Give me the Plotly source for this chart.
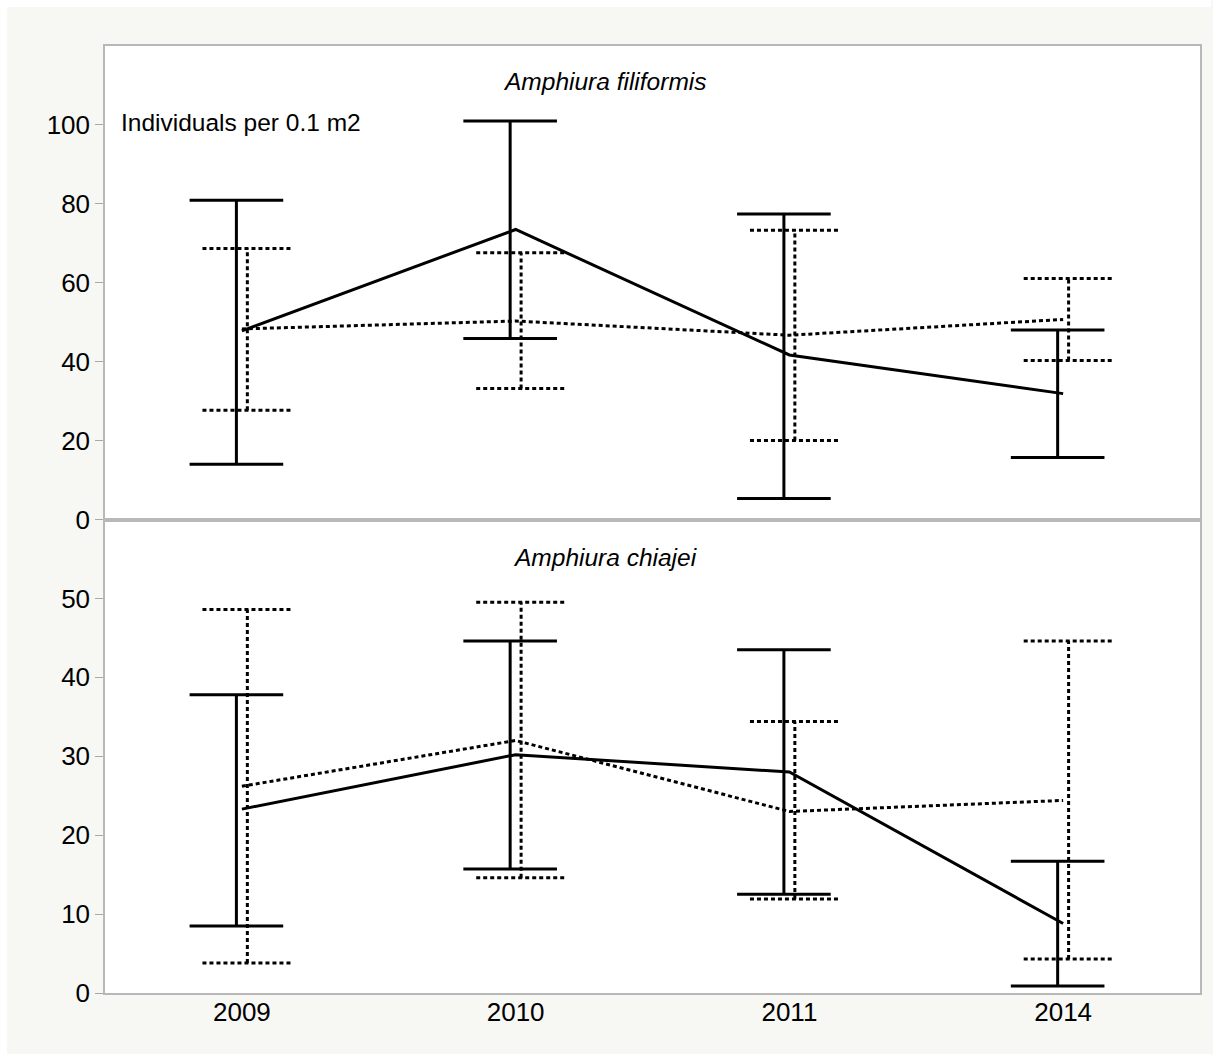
import plotly.graph_objects as go
from plotly.subplots import make_subplots

# ---- data -------------------------------------------------------------
years = ["2009", "2010", "2011", "2014"]

# Amphiura filiformis, individuals per 0.1 m2 (solid series)
fil_solid_mean = [47.8, 73.5, 41.7, 31.9]
fil_solid_low = [14.0, 45.9, 5.3, 15.7]
fil_solid_high = [80.9, 101.0, 77.4, 48.0]
# Amphiura filiformis (dotted series)
fil_dot_mean = [48.3, 50.3, 46.7, 50.7]
fil_dot_low = [27.7, 33.2, 20.0, 40.3]
fil_dot_high = [68.7, 67.6, 73.3, 61.1]

# Amphiura chiajei (solid series)
chi_solid_mean = [23.3, 30.2, 28.0, 8.8]
chi_solid_low = [8.5, 15.7, 12.5, 0.9]
chi_solid_high = [37.8, 44.6, 43.5, 16.7]
# Amphiura chiajei (dotted series)
chi_dot_mean = [26.2, 32.0, 23.0, 24.4]
chi_dot_low = [3.8, 14.6, 11.9, 4.3]
chi_dot_high = [48.6, 49.5, 34.4, 44.6]

top_ticks = [0, 20, 40, 60, 80, 100]
bottom_ticks = [0, 10, 20, 30, 40, 50]

# ---- geometry / style -------------------------------------------------
W, H = 1213, 1055
ML, MR, MT, MB = 105, 11, 46, 62
PW, PH = W - ML - MR, H - MT - MB

FRAME = "#b8b8b8"
TICK = "#a8a8a8"
BG = "#f7f7f3"
FONT = "Liberation Sans, Arial, Helvetica, sans-serif"
DOT = "4px,3px"
DOT_W = 3

SOLID_SHIFT, DOT_SHIFT = -0.02, 0.02      # error bars sit either side of the year
SOLID_CAP, DOT_CAP = 0.171, 0.164         # half cap width in category units


def px_x(q):
    return (q - ML) / PW


def px_y(p):
    return (H - MB - p) / PH


def whisker_path(low, high, shift, half):
    xs, ys = [], []
    for i, (lo, hi) in enumerate(zip(low, high)):
        xc = i + shift
        xs += [xc, xc, None, xc - half, xc + half, None, xc - half, xc + half, None]
        ys += [lo, hi, None, hi, hi, None, lo, lo, None]
    return xs, ys


fig = make_subplots(rows=2, cols=1, shared_xaxes=True, vertical_spacing=0)

panels = [
    (1, fil_solid_mean, fil_solid_low, fil_solid_high, fil_dot_mean, fil_dot_low, fil_dot_high),
    (2, chi_solid_mean, chi_solid_low, chi_solid_high, chi_dot_mean, chi_dot_low, chi_dot_high),
]
xpos = list(range(len(years)))

for row, s_mean, s_lo, s_hi, d_mean, d_lo, d_hi in panels:
    sx, sy = whisker_path(s_lo, s_hi, SOLID_SHIFT, SOLID_CAP)
    fig.add_trace(go.Scatter(x=sx, y=sy, mode="lines", line=dict(color="black", width=3),
                             hoverinfo="skip"), row=row, col=1)
    dx, dy = whisker_path(d_lo, d_hi, DOT_SHIFT, DOT_CAP)
    fig.add_trace(go.Scatter(x=dx, y=dy, mode="lines",
                             line=dict(color="black", width=DOT_W, dash=DOT),
                             hoverinfo="skip"), row=row, col=1)
    fig.add_trace(go.Scatter(x=xpos, y=s_mean, mode="lines", line=dict(color="black", width=3)),
                  row=row, col=1)
    fig.add_trace(go.Scatter(x=xpos, y=d_mean, mode="lines",
                             line=dict(color="black", width=DOT_W, dash=DOT)),
                  row=row, col=1)

common_axis = dict(showgrid=False, zeroline=False, showline=True, mirror=True,
                   linecolor=FRAME, linewidth=1.5)

for r in (1, 2):
    fig.update_xaxes(row=r, col=1, range=[-0.5, 3.5], tickmode="array",
                     tickvals=xpos, ticktext=years, ticks="", ticklabelstandoff=-5,
                     tickfont=dict(size=26, color="black", family=FONT), **common_axis)

fig.update_yaxes(row=1, col=1, range=[0, 120], tickmode="array", tickvals=top_ticks,
                 ticks="outside", ticklen=8, tickwidth=1, tickcolor=TICK,
                 tickfont=dict(size=26, color="black", family=FONT), **common_axis)
fig.update_yaxes(row=2, col=1, range=[0, 60], tickmode="array", tickvals=bottom_ticks,
                 ticks="outside", ticklen=8, tickwidth=1, tickcolor=TICK,
                 tickfont=dict(size=26, color="black", family=FONT), **common_axis)

annotations = [
    dict(text="<i>Amphiura filiformis</i>", x=px_x(606), y=px_y(82), xanchor="center", yanchor="middle"),
    dict(text="<i>Amphiura chiajei</i>", x=px_x(606), y=px_y(557), xanchor="center", yanchor="middle"),
    dict(text="Individuals per 0.1 m2", x=px_x(119), y=px_y(122), xanchor="left", yanchor="middle"),
]
for a in annotations:
    fig.add_annotation(xref="paper", yref="paper", showarrow=False,
                       font=dict(size=24.5, color="black", family=FONT), **a)

# thin white page edge around the grey panel
edge = dict(type="rect", xref="paper", yref="paper", fillcolor="white",
            line=dict(width=0), layer="above")
fig.add_shape(x0=px_x(0), x1=px_x(W), y0=px_y(7), y1=px_y(0), **edge)
fig.add_shape(x0=px_x(0), x1=px_x(7), y0=px_y(H), y1=px_y(0), **edge)
fig.add_shape(x0=px_x(0), x1=px_x(W), y0=px_y(H), y1=px_y(H - 1), **edge)

fig.update_layout(width=W, height=H, margin=dict(l=ML, r=MR, t=MT, b=MB),
                  paper_bgcolor=BG, plot_bgcolor="white", showlegend=False,
                  font=dict(family=FONT, color="black"))

fig.write_html("out.html")
